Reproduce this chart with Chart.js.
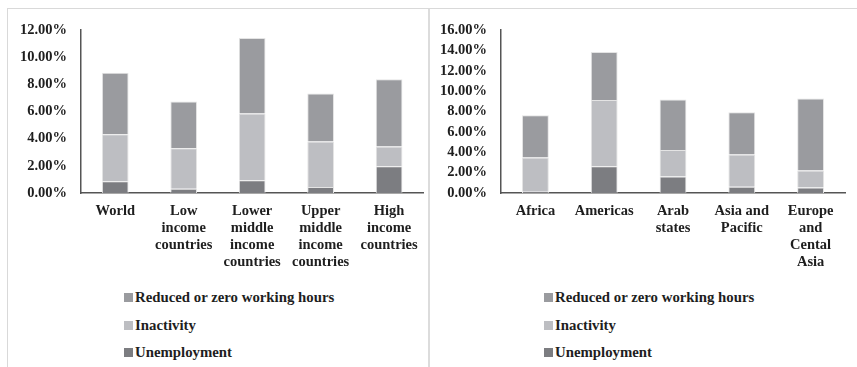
<!DOCTYPE html>
<html lang="en">
<head>
    <meta charset="UTF-8">
    <title>Labour market impact by income group and region</title>
    <script src="https://cdn.jsdelivr.net/npm/chart.js"></script>
    <style>
        body {
            margin: 0;
            background: #fff;
            font-family: "Liberation Serif", "Times New Roman", serif;
        }

        .page {
            position: relative;
            width: 857px;
            height: 367px;
            overflow: hidden;
        }

        .panel {
            position: absolute;
            top: 8px;
            height: 370px;
            border-top: 1px solid #d9d9d9;
        }

        #leftPanel {
            left: 7px;
            width: 420px;
            border-left: 1px solid #d9d9d9;
            border-right: 2px solid #dcdcdc;
        }

        #rightPanel {
            left: 429px;
            width: 440px;
        }

        canvas {
            position: absolute;
            top: 0;
        }

        .legend {
            position: absolute;
            top: 286px;
            font-weight: bold;
            font-size: 14.8px;
            color: #1e1e1e;
        }

        .legend div {
            height: 27.5px;
            line-height: 22px;
            white-space: nowrap;
        }

        .legend span {
            display: inline-block;
            width: 9px;
            height: 9px;
            margin-right: 2px;
            vertical-align: 0px;
        }
    </style>
</head>
<body>
<div class="page">
    <div class="panel" id="leftPanel"></div>
    <div class="panel" id="rightPanel"></div>

    <canvas id="incomeChart" width="428" height="275" style="left:0"></canvas>
    <canvas id="regionChart" width="429" height="275" style="left:428px"></canvas>

    <div class="legend" style="left:124px" id="incomeLegend"></div>
    <div class="legend" style="left:544px" id="regionLegend"></div>
</div>

<script>
    // Share of working-age population (%), stacked by type of impact
    const incomeGroups = [
        ['World'],
        ['Low', 'income', 'countries'],
        ['Lower', 'middle', 'income', 'countries'],
        ['Upper', 'middle', 'income', 'countries'],
        ['High', 'income', 'countries']
    ];
    const incomeUnemployment = [0.86, 0.32, 0.93, 0.44, 1.97];
    const incomeInactivity = [3.46, 2.98, 4.92, 3.36, 1.46];
    const incomeReduced = [4.53, 3.44, 5.56, 3.53, 4.94];

    const regions = [
        ['Africa'],
        ['Americas'],
        ['Arab', 'states'],
        ['Asia and', 'Pacific'],
        ['Europe', 'and', 'Cental', 'Asia']
    ];
    const regionUnemployment = [0.13, 2.63, 1.61, 0.62, 0.53];
    const regionInactivity = [3.36, 6.49, 2.60, 3.16, 1.67];
    const regionReduced = [4.14, 4.71, 4.98, 4.15, 7.08];

    const seriesNames = ['Unemployment', 'Inactivity', 'Reduced or zero working hours'];
    const seriesColors = ['#7c7d81', '#bdbec2', '#9a9b9f'];

    const fontFamily = '"Liberation Serif", "Times New Roman", serif';
    const textColor = '#1e1e1e';
    const axisColor = '#555';

    function buildChart(canvasId, labels, series, yMax, yWidth, rightPad) {
        return new Chart(document.getElementById(canvasId), {
            type: 'bar',
            data: {
                labels,
                datasets: series.map((values, i) => ({
                    label: seriesNames[i],
                    data: values,
                    backgroundColor: seriesColors[i],
                    borderColor: '#e4e4e4',
                    borderWidth: 1,
                    categoryPercentage: 1,
                    barPercentage: 0.39
                }))
            },
            options: {
                responsive: false,
                animation: false,
                layout: { padding: { left: 0, top: 30, right: rightPad, bottom: 0 } },
                plugins: {
                    legend: { display: false },
                    tooltip: { enabled: false }
                },
                scales: {
                    x: {
                        stacked: true,
                        grid: { display: false, drawTicks: false },
                        border: { display: true, color: axisColor, width: 1.5 },
                        ticks: {
                            autoSkip: false,
                            maxRotation: 0,
                            padding: 10,
                            color: textColor,
                            font: { family: fontFamily, size: 14.5, weight: 'bold', lineHeight: 1.17 }
                        },
                        afterFit: scale => { scale.height = 82; }
                    },
                    y: {
                        stacked: true,
                        min: 0,
                        max: yMax,
                        grid: { display: false, drawTicks: false },
                        border: { display: true, color: axisColor, width: 1.5 },
                        ticks: {
                            stepSize: 2,
                            autoSkip: false,
                            padding: 14,
                            color: textColor,
                            font: { family: fontFamily, size: 14.5, weight: 'bold' },
                            callback: value => value.toFixed(2) + '%'
                        },
                        afterFit: scale => { scale.width = yWidth; }
                    }
                }
            }
        });
    }

    function buildLegend(elId) {
        const box = document.getElementById(elId);
        // top of the stack first
        for (let i = seriesNames.length - 1; i >= 0; i--) {
            const row = document.createElement('div');
            const swatch = document.createElement('span');
            swatch.style.background = seriesColors[i];
            row.appendChild(swatch);
            row.appendChild(document.createTextNode(seriesNames[i]));
            box.appendChild(row);
        }
    }

    buildChart('incomeChart', incomeGroups,
        [incomeUnemployment, incomeInactivity, incomeReduced], 12, 81, 3);
    buildChart('regionChart', regions,
        [regionUnemployment, regionInactivity, regionReduced], 16, 73, 12);

    buildLegend('incomeLegend');
    buildLegend('regionLegend');
</script>
</body>
</html>
